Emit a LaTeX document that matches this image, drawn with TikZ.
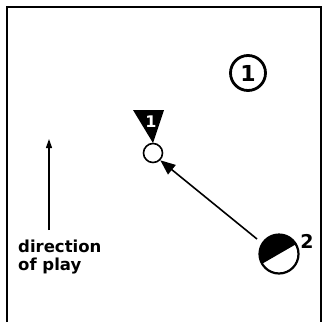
\documentclass[tikz,border=0pt]{standalone}
\usepackage{fontspec}
\setmainfont{DejaVu Sans}
\usetikzlibrary{arrows.meta}
\begin{document}
\begin{tikzpicture}[x=1pt,y=-1pt,
  frame/.style={line width=2pt},
  lbl/.style={font=\bfseries\fontsize{19}{19}\selectfont, inner sep=0pt},
  pass/.style={line width=1.6pt,-{Triangle[length=15pt,width=12pt]}},
  dirarrow/.style={line width=1.2pt,-{Triangle[length=9pt,width=6pt]}}]
\useasboundingbox (0,0) rectangle (324,322);
% frame
\draw[frame] (7,322) -- (7,7) -- (321,7) -- (321,322);
% circled 1
\node[circle, draw, line width=2.8pt, minimum size=35pt, inner sep=0pt,
  font=\bfseries\fontsize{22}{22}\selectfont] (c1) at (248,73) {1};
% triangle with 1
\coordinate (tA) at (133,110);
\coordinate (tB) at (164,110);
\coordinate (tC) at (153,143);
\fill (tA) -- (tB) -- (tC) -- cycle;
\node[text=white, inner sep=0pt, font=\bfseries\fontsize{16}{16}\selectfont] (t1) at (151,122) {1};
% small circle
\node[circle, draw, line width=1.6pt, minimum size=19pt, inner sep=0pt, fill=white] (p1) at (153,153) {};
% half-filled circle 2
\node[circle, minimum size=40pt, inner sep=0pt] (p2) at (279,254) {};
\fill (p2.center) ++(150:20) arc[start angle=150, end angle=330, radius=20] -- cycle;
\draw[line width=2.2pt] (p2.center) circle[radius=19.5];
\node[lbl] (l2) at (307,241) {2};
% pass arrow
\coordinate (s) at (257,239);
\draw[pass] (s) -- (p1.south east);
% direction of play
\coordinate (d0) at (49,230);
\coordinate (d1) at (49,139);
\draw[dirarrow] (d0) -- (d1);
\node[anchor=north west, align=left, inner sep=0pt, font=\bfseries\fontsize{16.5}{18}\selectfont] (dir) at (18,240) {direction\\of play};
\end{tikzpicture}
\end{document}
